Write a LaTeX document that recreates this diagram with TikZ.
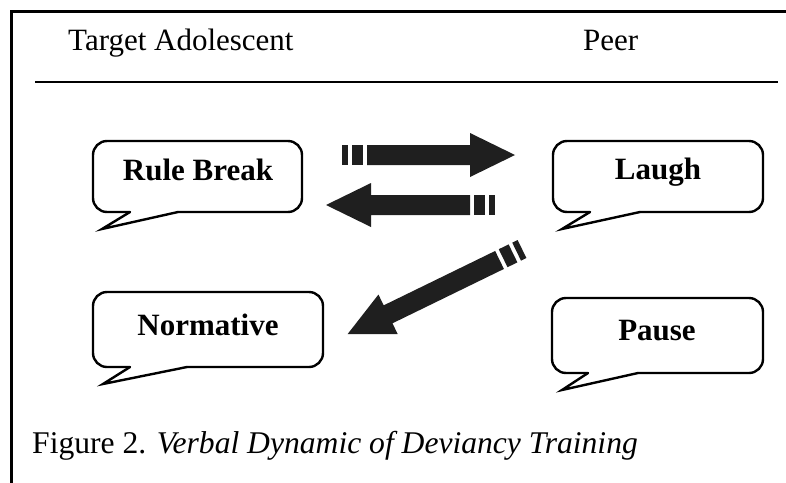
\documentclass[tikz,border=0pt]{standalone}
\usepackage{fontspec}
\setmainfont{Liberation Serif}
\tikzset{
  bub/.style={line width=2.4pt, line cap=round, line join=miter},
  bubtext/.style={font=\fontsize{31}{36}\selectfont\bfseries, anchor=base, inner sep=0pt},
  headtext/.style={font=\fontsize{31}{36}\selectfont, anchor=base west, inner sep=0pt},
  captext/.style={font=\fontsize{31.6}{36}\selectfont, anchor=base west, inner sep=0pt},
  fatfill/.style={fill=black!88, draw=none},
}
% #1 left, #2 top, #3 right, #4 bottom, #5 tailA x, #6 tip x, #7 tip y, #8 tailB x
\newcommand\speechbubble[8]{%
  \draw[bub, rounded corners=14pt] (#8,#4) -- (#3,#4) -- (#3,#2) -- (#1,#2) -- (#1,#4) -- (#5,#4);
  \draw[bub] (#5,#4) -- (#6,#7) -- (#8,#4);
}
% #1 tail point, #2 canvas angle, #3 length
\newcommand\fatarrow[3]{%
  \begin{scope}[shift={#1}, rotate=#2]
    \fill[fatfill] (0,-10) rectangle (6,10);
    \fill[fatfill] (10,-10) rectangle (21,10);
    \fill[fatfill] (25,-10) -- ({#3-45},-10) -- ({#3-45},-22) -- (#3,0) -- ({#3-45},22) -- ({#3-45},10) -- (25,10) -- cycle;
  \end{scope}
}
\begin{document}
\begin{tikzpicture}[x=1pt,y=-1pt]
\useasboundingbox (0,0) rectangle (786,482);
% frame
\draw[line width=3pt] (11,490) -- (11,11) -- (790,11);
% header
\node[headtext] (ta) at (68,50) {Target Adolescent};
\node[headtext] (peer) at (583,50) {Peer};
\draw[line width=1.8pt] (35,82) -- (778,82);
% bubbles
\speechbubble{93}{141}{302}{212}{130}{102}{229}{178}
\node[bubtext] (rb) at (198,180) {Rule Break};
\speechbubble{553}{141}{763}{212}{590}{562}{229}{640}
\node[bubtext] (laugh) at (658,179) {Laugh};
\speechbubble{93}{292}{323}{367}{130}{103}{384}{187}
\node[bubtext] (norm) at (208,335) {Normative};
\speechbubble{552}{298}{763}{373}{588}{562}{390}{638}
\node[bubtext] (pause) at (657,340) {Pause};
% arrows
\fatarrow{(342,155)}{0}{173}
\fatarrow{(495,205)}{180}{169}
\fatarrow{(522,249)}{206}{194}
% caption
\node[captext] (cap) at (32,453) {Figure 2. \textit{Verbal Dynamic of Deviancy Training}};
\end{tikzpicture}
\end{document}
